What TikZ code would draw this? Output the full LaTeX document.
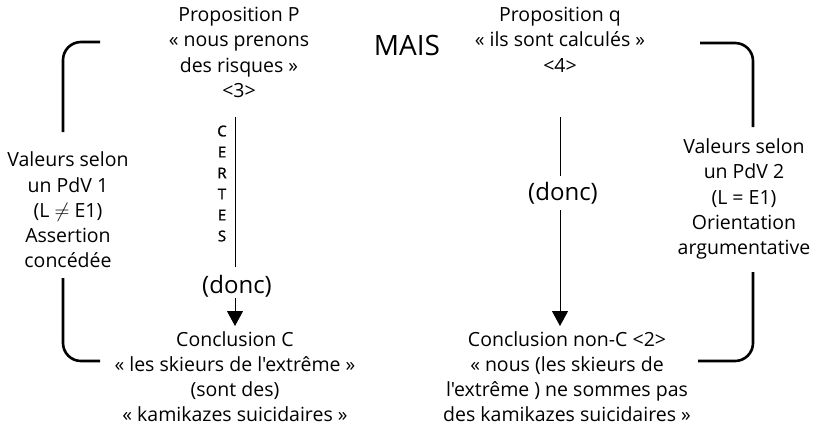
\documentclass[tikz,border=0pt]{standalone}
\usepackage{fontspec}
\setmainfont{Open Sans}[Ligatures=TeXOff]
\usetikzlibrary{arrows.meta}
\tikzset{
  txt/.style={align=center,inner sep=0pt,font=\fontsize{19.5bp}{25.3bp}\selectfont},
  big/.style={inner sep=0pt,font=\fontsize{24bp}{25bp}\selectfont},
  brk/.style={line width=2.6bp,rounded corners=18bp},
  thin/.style={line width=0.9bp},
  arr/.style={thin,-{Triangle[length=15bp,width=16bp]}},
  let/.style={inner sep=0pt,font=\fontsize{15bp}{15bp}\selectfont\addfontfeatures{FakeBold=1.2}}
}
\begin{document}
\begin{tikzpicture}[x=1bp,y=-1bp]
\useasboundingbox (0,0) rectangle (816,431);
% top propositions
\node[txt,anchor=north] (P) at (239,7) {Proposition P\\« nous prenons\\des risques »\\<3>};
\node[inner sep=0pt,font=\fontsize{28bp}{28bp}\selectfont] (mais) at (407,45) {MAIS};
\node[txt,anchor=north] (q) at (560,7) {Proposition q\\« ils sont calculés »\\<4>};
% side texts
\node[txt] (v1) at (68,210) {Valeurs selon\\un PdV 1\\(L $\neq$ E1)\\Assertion\\concédée};
\node[txt] (v2) at (744,199) {Valeurs selon\\un PdV 2\\(L = E1)\\Orientation\\argumentative};
% conclusions
\node[txt,anchor=north] (C) at (235,331) {Conclusion C\\« les skieurs de l'extrême »\\(sont des)\\« kamikazes suicidaires »};
\node[txt,anchor=north] (nC) at (567,331) {Conclusion non-C <2>\\« nous (les skieurs de\\l'extrême ) ne sommes pas\\des kamikazes suicidaires »};
% CERTES
\foreach \l/\y [count=\i] in {C/131,E/152,R/173,T/194,E/215,S/236}
  \node[let] (c\i) at (222,\y) {\l};
% donc
\node[big] (d1) at (237,286) {(donc)};
\node[big] (d2) at (563,193) {(donc)};
% connectors
\coordinate (p1) at (235,117);
\coordinate (p1b) at (235,267);
\coordinate (a1) at (235,298);
\coordinate (a1t) at (235,326);
\coordinate (q1) at (560,117);
\coordinate (q1b) at (560,176);
\coordinate (a2) at (560,210);
\coordinate (a2t) at (560,326);
\draw[thin] (p1) -- (p1b);
\draw[arr] (a1) -- (a1t);
\draw[thin] (q1) -- (q1b);
\draw[arr] (a2) -- (a2t);
% brackets
\draw[brk] (100,42) -- (63,42) -- (63,132);
\draw[brk] (63,278) -- (63,361) -- (100,361);
\draw[brk] (700,43) -- (753,43) -- (753,127);
\draw[brk] (753,272) -- (753,361) -- (698,361);
\end{tikzpicture}
\end{document}
